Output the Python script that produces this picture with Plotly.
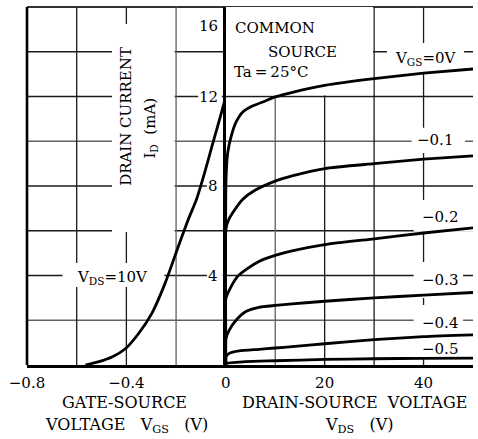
import plotly.graph_objects as go

# ---------------- data ----------------
# transfer characteristic, VDS = 10 V
vgs_transfer = [-0.565, -0.51, -0.456, -0.403, -0.35, -0.297, -0.244, -0.191,
                -0.151, -0.118, -0.085, -0.055, -0.032, -0.012, 0.0]
id_transfer = [0.0, 0.15, 0.37, 0.74, 1.42, 2.32, 3.66, 5.3,
               6.5, 7.4, 8.6, 9.8, 10.7, 11.5, 12.0]

# output characteristics  ID (mA) vs VDS (V)
vds_g0 = [0, 0.05, 0.4, 1.07, 2.07, 3.4, 5.4, 8, 10, 13.7, 20, 30, 40, 50]
id_g0 = [0, 8.3, 9.5, 10.2, 10.85, 11.3, 11.57, 11.8, 11.98, 12.2, 12.5, 12.8, 13.04, 13.23]

vds_g1 = [0, 0.05, 0.5, 1.4, 3.4, 6.0, 10, 13.4, 20, 30, 40, 50]
id_g1 = [0, 6.1, 6.45, 6.8, 7.4, 7.82, 8.22, 8.45, 8.78, 9.0, 9.2, 9.35]

vds_g2 = [0, 0.05, 1.07, 2.4, 4.07, 6.7, 10, 13.4, 20, 30, 40, 50]
id_g2 = [0, 3.0, 3.5, 3.96, 4.26, 4.63, 4.9, 5.1, 5.38, 5.64, 5.9, 6.13]

vds_g3 = [0, 0.05, 0.73, 2.07, 4.07, 6.7, 10, 13.4, 20, 30, 40, 50]
id_g3 = [0, 1.2, 1.57, 2.0, 2.39, 2.58, 2.66, 2.73, 2.85, 3.0, 3.12, 3.24]

vds_g4 = [0, 0.05, 0.7, 2.7, 6.7, 10, 13.4, 20, 30, 40, 50]
id_g4 = [0, 0.37, 0.52, 0.63, 0.7, 0.76, 0.82, 0.95, 1.13, 1.27, 1.35]

vds_g5 = [0, 0.1, 4, 10, 20, 30, 40, 50]
id_g5 = [0, 0.07, 0.15, 0.19, 0.25, 0.28, 0.30, 0.31]

output_curves = [(vds_g0, id_g0), (vds_g1, id_g1), (vds_g2, id_g2),
                 (vds_g3, id_g3), (vds_g4, id_g4), (vds_g5, id_g5)]

curve_labels = ["V<sub>GS</sub>=0V", "\u22120.1", "\u22120.2", "\u22120.3", "\u22120.4", "\u22120.5"]
curve_label_pos = [(40.4, 13.72), (42.4, 10.06), (43.4, 6.61), (43.4, 3.8), (43.4, 1.88), (43.4, 0.72)]

vgs_ticks = [-0.8, -0.4, 0]
vgs_ticktext = ["\u22120.8", "\u22120.4", "0"]
vds_ticks = [20, 40]
vds_ticktext = ["20", "40"]
id_ticks = [16, 12, 8, 4]
id_tick_ypos = [15.15, 12, 8, 4]

vgs_grid = [-0.6, -0.4, -0.2]
vds_grid = [10, 20, 30, 40]
id_grid = [2, 4, 6, 8, 10, 12, 14]

FONT = "DejaVu Serif"
F = dict(family=FONT, size=15, color="black")
FT = dict(family=FONT, size=16, color="black")

fig = go.Figure()

fig.add_trace(go.Scatter(x=vgs_transfer, y=id_transfer, mode="lines",
                         line=dict(color="black", width=2.8, shape="spline", smoothing=0.6),
                         xaxis="x", yaxis="y", showlegend=False, hoverinfo="skip"))
for vx, iy in output_curves:
    fig.add_trace(go.Scatter(x=vx, y=iy, mode="lines",
                             line=dict(color="black", width=2.8, shape="spline", smoothing=0.6),
                             xaxis="x2", yaxis="y", showlegend=False, hoverinfo="skip"))

split = 201 / 451

shapes = []
GRID = "#1a1a1a"
GRAY = "#606060"
for v in vgs_grid:
    shapes.append(dict(type="line", xref="x", yref="y", x0=v, x1=v, y0=0, y1=16,
                       line=dict(color=GRAY if v == -0.2 else GRID, width=1.3), layer="below"))
for v in vds_grid:
    shapes.append(dict(type="line", xref="x2", yref="y", x0=v, x1=v, y0=0, y1=16,
                       line=dict(color=GRAY if v == 10 else GRID, width=1.3), layer="below"))
for h in id_grid:
    shapes.append(dict(type="line", xref="paper", yref="y", x0=0, x1=1, y0=h, y1=h,
                       line=dict(color=GRAY if h in (2, 10) else GRID, width=1.3), layer="below"))
# frame
shapes.append(dict(type="line", xref="paper", yref="paper", x0=0, x1=1, y0=1, y1=1,
                   line=dict(color="#333", width=2), layer="below"))
shapes.append(dict(type="line", xref="paper", yref="paper", x0=0, x1=0, y0=0, y1=1,
                   line=dict(color="black", width=2.6), layer="below"))

# white gaps behind texts
def wrect(xref, x0, x1, y0, y1):
    shapes.append(dict(type="rect", xref=xref, yref="y", x0=x0, x1=x1, y0=y0, y1=y1,
                       fillcolor="white", line=dict(width=0), layer="below"))

wrect("x", -0.458, -0.206, 5.94, 15.24)     # y title
wrect("x", -0.111, -0.016, 11.6, 12.5)     # 12
wrect("x", -0.076, -0.012, 7.55, 8.45)     # 8
wrect("x", -0.076, -0.012, 3.55, 4.45)     # 4
wrect("x", -0.657, -0.247, 3.49, 4.56)     # VDS=10V
wrect("x2", 0, 29.8, 12.06, 16)            # COMMON SOURCE
wrect("x2", 32.6, 48.2, 13.1, 14.39)       # VGS=0V
wrect("x2", 37.6, 48.4, 9.47, 10.6)        # -0.1
wrect("x2", 38.0, 50, 5.95, 7.37)          # -0.2
wrect("x2", 38.0, 48.0, 3.0, 4.6)          # -0.3
wrect("x2", 38.0, 48.0, 0.36, 2.68)        # -0.4 / -0.5

annotations = []
def ann(text, x, y, xref, yref, xanchor="center", yanchor="middle", angle=0, font=F):
    annotations.append(dict(text=text, x=x, y=y, xref=xref, yref=yref, showarrow=False,
                            xanchor=xanchor, yanchor=yanchor, font=font, textangle=angle))

for t, (lx, ly) in zip(curve_labels, curve_label_pos):
    ann(t, lx, ly, "x2", "y")
for t, ty in zip(id_ticks, id_tick_ypos):
    ann(str(t), -0.022, ty, "x", "y", xanchor="right")
ann("COMMON", 10.0, 15.06, "x2", "y")
ann("SOURCE", 15.6, 13.99, "x2", "y")
ann("Ta\u2009=\u200925\u00b0C", 9.1, 13.1, "x2", "y")
ann("V<sub>DS</sub>=10V", -0.454, 3.9, "x", "y")
ann("DRAIN CURRENT", -0.402, 11.13, "x", "y", angle=-90)
ann("I<sub>D</sub>\u00a0\u00a0(mA)", -0.302, 10.6, "x", "y", angle=-90)
# axis titles
ann("GATE-SOURCE", 0.2195, -0.106, "paper", "paper", font=FT)
ann("VOLTAGE\u00a0\u00a0\u00a0V<sub>GS</sub>\u00a0\u00a0\u00a0(V)", 0.2228, -0.168, "paper", "paper", font=FT)
ann("DRAIN-SOURCE\u00a0\u00a0VOLTAGE", 0.734, -0.106, "paper", "paper", font=FT)
ann("V<sub>DS</sub>\u00a0\u00a0\u00a0(V)", 0.745, -0.168, "paper", "paper", font=FT)

fig.update_layout(
    width=478, height=439,
    margin=dict(l=27, r=0, t=7, b=74),
    paper_bgcolor="white", plot_bgcolor="white",
    font=F,
    showlegend=False,
    shapes=shapes,
    annotations=annotations,
    xaxis=dict(domain=[0, split], range=[-0.8, 0], anchor="y",
               showgrid=False, zeroline=False, showline=True, linecolor="black", linewidth=2.6,
               tickmode="array", tickvals=vgs_ticks, ticktext=vgs_ticktext, ticks="",
               tickfont=F, ticklabelstandoff=2, fixedrange=True),
    xaxis2=dict(domain=[split, 1], range=[0, 50], anchor="y",
                showgrid=False, zeroline=False, showline=True, linecolor="black", linewidth=2.6,
                tickmode="array", tickvals=vds_ticks, ticktext=vds_ticktext, ticks="",
                tickfont=F, ticklabelstandoff=2, fixedrange=True),
    yaxis=dict(domain=[0, 1], range=[0, 16], anchor="x2",
               showgrid=False, zeroline=False, showline=True, linecolor="black", linewidth=2.6,
               showticklabels=False, ticks="", fixedrange=True),
)

post = ("document.body.style.margin='0';"
        "document.body.style.overflow='hidden';"
        "var gd=document.querySelector('.plotly-graph-div');"
        "gd.style.width='478px';gd.style.height='439px';"
        "return Plotly.relayout(gd,'width',478);")

fig.write_html("out.html", config={"displayModeBar": False, "responsive": False},
               post_script=post)
